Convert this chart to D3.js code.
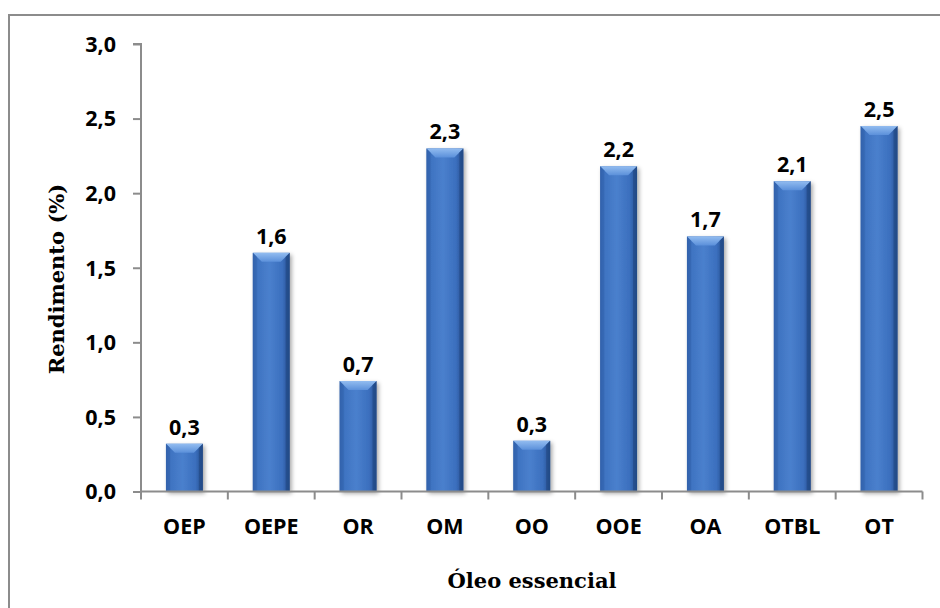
<!DOCTYPE html>
<html>
<head>
<meta charset="utf-8">
<script src="https://cdn.jsdelivr.net/npm/d3@7"></script>
<style>
  html, body { margin: 0; padding: 0; background: #fff; }
  svg { display: block; }
</style>
</head>
<body>
<svg id="chart" width="940" height="608"></svg>
<script>
const categories = ["OEP", "OEPE", "OR", "OM", "OO", "OOE", "OA", "OTBL", "OT"];
const values = [0.32, 1.60, 0.74, 2.30, 0.34, 2.18, 1.71, 2.08, 2.45];
const yTicks = [0, 0.5, 1.0, 1.5, 2.0, 2.5, 3.0];
const yTitle = "Rendimento (%)";
const xTitle = "Óleo essencial";

const svg = d3.select("#chart");
const plot = { left: 141, right: 922.5, top: 44, bottom: 491.5 };
const labelFont = "'Open Sans', sans-serif";
const labelSize = 21.5;

const ptLocale = d3.formatLocale({ decimal: ",", thousands: ".", grouping: [3], currency: ["", ""] });
const fmt = ptLocale.format(".1f");

const x = d3.scaleBand().domain(categories).range([plot.left, plot.right]).paddingInner(0.575).paddingOuter(0.2875);
const y = d3.scaleLinear().domain([0, 3]).range([plot.bottom, plot.top]);

const defs = svg.append("defs");
const body = defs.append("linearGradient").attr("id", "barBody").attr("x1", 0).attr("x2", 1).attr("y1", 0).attr("y2", 0);
body.append("stop").attr("offset", "0%").attr("stop-color", "#2f5ea6");
body.append("stop").attr("offset", "14%").attr("stop-color", "#3f74c2");
body.append("stop").attr("offset", "45%").attr("stop-color", "#4a80cd");
body.append("stop").attr("offset", "80%").attr("stop-color", "#3b6fbe");
body.append("stop").attr("offset", "100%").attr("stop-color", "#264f8f");

const bevel = defs.append("linearGradient").attr("id", "barTop").attr("x1", 0).attr("x2", 0).attr("y1", 0).attr("y2", 1);
bevel.append("stop").attr("offset", "0%").attr("stop-color", "#92bcf0");
bevel.append("stop").attr("offset", "100%").attr("stop-color", "#5b90da");

const shadow = defs.append("filter").attr("id", "shadow").attr("x", "-30%").attr("y", "-10%").attr("width", "170%").attr("height", "130%");
shadow.append("feDropShadow").attr("dx", 2).attr("dy", 2).attr("stdDeviation", 2).attr("flood-color", "#000").attr("flood-opacity", 0.35);

// outer border
svg.append("rect").attr("x", 9).attr("y", 15).attr("width", 960).attr("height", 640)
  .attr("fill", "none").attr("stroke", "#8c8c8c").attr("stroke-width", 2);

// bars
const bw = x.bandwidth();
const bev = 9;
const bars = svg.append("g").selectAll("g").data(categories).join("g");
bars.append("rect")
  .attr("x", d => x(d)).attr("y", (d, i) => y(values[i]))
  .attr("width", bw).attr("height", (d, i) => y(0) - y(values[i]))
  .attr("fill", "url(#barBody)").attr("filter", "url(#shadow)");
bars.append("path")
  .attr("d", (d, i) => {
    const x0 = x(d), x1 = x(d) + bw, t = y(values[i]);
    return `M${x0},${t}L${x1},${t}L${x1 - bev},${t + bev}L${x0 + bev},${t + bev}Z`;
  })
  .attr("fill", "url(#barTop)");
bars.append("path")
  .attr("d", (d, i) => {
    const x0 = x(d), t = y(values[i]), b = y(0);
    return `M${x0},${t}L${x0 + 4},${t + 4}L${x0 + 4},${b}L${x0},${b}Z`;
  })
  .attr("fill", "#3466b0").attr("opacity", 0.6);
bars.append("path")
  .attr("d", (d, i) => {
    const x1 = x(d) + bw, t = y(values[i]), b = y(0);
    return `M${x1},${t}L${x1 - 4},${t + 4}L${x1 - 4},${b}L${x1},${b}Z`;
  })
  .attr("fill", "#1f4680").attr("opacity", 0.6);

// value labels
svg.append("g").selectAll("text").data(categories).join("text")
  .attr("x", d => x(d) + bw / 2)
  .attr("y", (d, i) => y(values[i]) - 9)
  .attr("text-anchor", "middle")
  .attr("font-family", labelFont).attr("font-weight", "bold").attr("font-size", labelSize)
  .attr("fill", "#000")
  .text((d, i) => fmt(values[i]));

// y axis
const yAxis = svg.append("g").attr("transform", `translate(${plot.left},0)`)
  .call(d3.axisLeft(y).tickValues(yTicks).tickFormat(fmt).tickSize(8).tickPadding(17));
yAxis.select(".domain").attr("stroke", "#8c8c8c").attr("stroke-width", 2).attr("d", `M-8,${plot.top}H0V${plot.bottom}`);
yAxis.selectAll(".tick line").attr("stroke", "#8c8c8c").attr("stroke-width", 2);
yAxis.selectAll(".tick text")
  .attr("font-family", labelFont).attr("font-weight", "bold").attr("font-size", labelSize)
  .attr("fill", "#000").attr("dy", "0.34em");

// x axis
const xAxis = svg.append("g").attr("transform", `translate(0,${plot.bottom})`)
  .call(d3.axisBottom(x).tickSize(0).tickPadding(27));
xAxis.select(".domain").attr("stroke", "#8c8c8c").attr("stroke-width", 2).attr("d", `M${plot.left},0H${plot.right}`);
xAxis.selectAll(".tick text")
  .attr("font-family", labelFont).attr("font-weight", "bold").attr("font-size", labelSize)
  .attr("fill", "#000");
const bounds = d3.range(categories.length + 1).map(i => plot.left + i * (plot.right - plot.left) / categories.length);
xAxis.append("g").selectAll("line").data(bounds).join("line")
  .attr("x1", d => d).attr("x2", d => d).attr("y1", 0).attr("y2", 8)
  .attr("stroke", "#8c8c8c").attr("stroke-width", 2);

// titles
svg.append("text")
  .attr("transform", `translate(64,279) rotate(-90)`)
  .attr("text-anchor", "middle")
  .attr("font-family", "'DejaVu Serif', serif").attr("font-weight", "bold").attr("font-size", 21)
  .attr("fill", "#000").text(yTitle);
svg.append("text")
  .attr("x", 532).attr("y", 588)
  .attr("text-anchor", "middle")
  .attr("font-family", "'DejaVu Serif', serif").attr("font-weight", "bold").attr("font-size", 21)
  .attr("fill", "#000").text(xTitle);
</script>
</body>
</html>
